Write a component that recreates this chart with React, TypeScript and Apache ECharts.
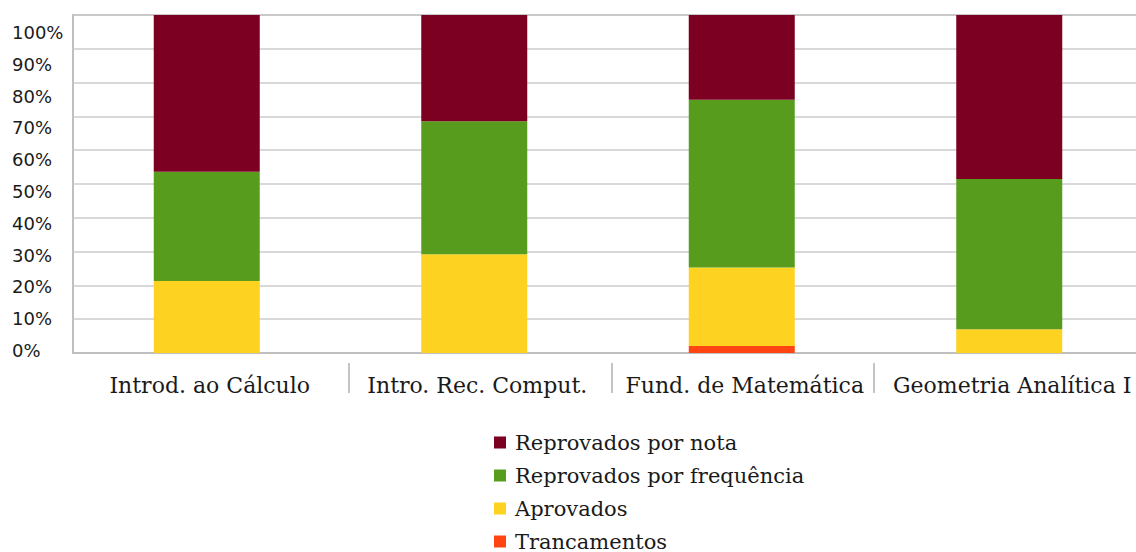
import React, { useEffect, useRef } from "react";
import * as echarts from "echarts";

const categories = [
  "Introd. ao Cálculo",
  "Intro. Rec. Comput.",
  "Fund. de Matemática",
  "Geometria Analítica I",
];
const trancamentos = [0, 0, 2.1, 0];
const aprovados = [21.3, 29.2, 23.2, 7.0];
const reprovadosFrequencia = [32.3, 39.4, 49.6, 44.5];
const reprovadosNota = [46.4, 31.4, 25.1, 48.5];
const legendOrder = [
  "Reprovados por nota",
  "Reprovados por frequência",
  "Aprovados",
  "Trancamentos",
];

const SERIF = "'DejaVu Serif', serif";
const SANS = "'DejaVu Sans', sans-serif";
const TXT = "#1a1a1a";

export default function App() {
  const ref = useRef<HTMLDivElement>(null);
  useEffect(() => {
    if (!ref.current) return;
    const chart = echarts.init(ref.current, null, { renderer: "svg" });
    const barBase = { type: "bar", stack: "total", barWidth: 106, xAxisIndex: 0, yAxisIndex: 0 };
    chart.setOption({
      animation: false,
      backgroundColor: "#ffffff",
      grid: [
        { left: 73, top: 15, width: 1070, height: 338, show: true, borderColor: "#bfbfbf", borderWidth: 2 },
        { left: 73, top: 32.5, width: 100, height: 318 },
        { left: 86.5, top: 300, width: 1050, height: 63 },
      ],
      xAxis: [
        {
          type: "category",
          gridIndex: 0,
          data: categories,
          axisTick: { show: false },
          axisLine: { show: true, lineStyle: { color: "#bfbfbf", width: 2 } },
          axisLabel: { interval: 0, fontFamily: SERIF, fontSize: 22, color: TXT, margin: 21, padding: [0, 0, 0, 6] },
        },
        { type: "category", gridIndex: 1, data: categories, show: false },
        {
          type: "category",
          gridIndex: 2,
          data: categories,
          axisLine: { show: false },
          axisLabel: { show: false },
          axisTick: {
            show: true,
            length: 30,
            interval: (idx: number) => idx !== 0,
            lineStyle: { color: "#c4c4c4", width: 2 },
          },
        },
      ],
      yAxis: [
        {
          type: "value",
          gridIndex: 0,
          min: 0,
          max: 100,
          interval: 10,
          axisLabel: { show: false },
          axisLine: { show: false },
          axisTick: { show: false },
          splitLine: { show: true, lineStyle: { color: "#cccccc", width: 1.5 } },
        },
        {
          type: "value",
          gridIndex: 1,
          min: 0,
          max: 100,
          interval: 10,
          axisLine: { show: false },
          axisTick: { show: false },
          splitLine: { show: false },
          axisLabel: {
            formatter: "{value}%",
            align: "left",
            margin: 61,
            fontFamily: SANS,
            fontSize: 18,
            color: TXT,
          },
        },
        { type: "value", gridIndex: 2, show: false },
      ],
      legend: {
        orient: "vertical",
        left: 494,
        top: 432,
        itemWidth: 12,
        itemHeight: 12,
        itemGap: 12,
        padding: 0,
        icon: "rect",
        data: legendOrder,
        textStyle: { fontFamily: SERIF, fontSize: 21, color: TXT, padding: [0, 0, 0, 4] },
      },
      series: [
        { ...barBase, name: "Trancamentos", data: trancamentos, itemStyle: { color: "#FF4612" } },
        { ...barBase, name: "Aprovados", data: aprovados, itemStyle: { color: "#FED220" } },
        { ...barBase, name: "Reprovados por frequência", data: reprovadosFrequencia, itemStyle: { color: "#589C1D" } },
        { ...barBase, name: "Reprovados por nota", data: reprovadosNota, itemStyle: { color: "#7B0021" } },
      ],
    });
    return () => chart.dispose();
  }, []);
  return (
    <div style={{ position: "fixed", left: 0, top: 0, width: 1136, height: 552, overflow: "hidden", background: "#fff" }}>
      <div ref={ref} style={{ width: 1160, height: 552 }} />
    </div>
  );
}
